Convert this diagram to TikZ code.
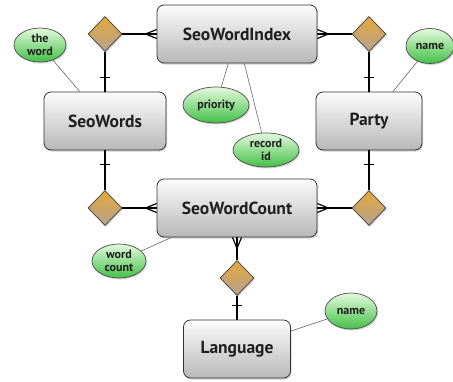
\documentclass[tikz,border=0pt]{standalone}
\usepackage{fontspec}
\setmainfont{PT Sans}
\usetikzlibrary{shapes.geometric,shadows,decorations.markings}
\definecolor{dtop}{RGB}{228,168,60}
\definecolor{dbot}{RGB}{180,162,142}
\definecolor{gtop}{RGB}{228,250,222}
\definecolor{gbot}{RGB}{66,192,70}
\definecolor{etop}{RGB}{252,252,252}
\definecolor{ebot}{RGB}{184,184,184}
\begin{document}
\begin{tikzpicture}[x=1pt,y=-1pt,
 shad/.style={drop shadow={opacity=0.35, shadow xshift=1pt, shadow yshift=-1.5pt}},
 entity/.style={draw=black!80, line width=0.8pt, rounded corners=7pt, top color=etop, bottom color=ebot,
   minimum height=58pt, inner sep=0pt, font=\bfseries\fontsize{17.5}{19}\selectfont, text=black!88, shad},
 rel/.style={diamond, draw=black!75, line width=0.7pt, top color=dtop, bottom color=dbot,
   minimum width=34pt, minimum height=35pt, inner sep=0pt, shad},
 attr/.style={ellipse, draw=black!70, line width=0.7pt, top color=gtop, bottom color=gbot, inner sep=0pt,
   font=\bfseries\fontsize{12}{12.5}\selectfont, text=black!88, align=center, shad},
 alink/.style={draw=black!60, line width=0.6pt},
 link/.style={draw=black, line width=1.4pt},
 many/.style={link, postaction={decorate}, decoration={markings,
   mark=at position -11pt with {\draw[line width=1.2pt] (0pt,0pt)--(11pt,4.5pt) (0pt,0pt)--(11pt,-4.5pt);}}},
 one/.style={link, postaction={decorate}, decoration={markings,
   mark=at position -14pt with {\draw[line width=1.2pt] (0pt,-5pt)--(0pt,5pt);}}},
]
\useasboundingbox (0,0) rectangle (453,381);

% entities
\node[entity, minimum width=160pt] (swi) at (237,34) {SeoWordIndex};
\node[entity, minimum width=122pt] (sw) at (105,121) {SeoWords};
\node[entity, minimum width=106pt] (party) at (369,121) {Party};
\node[entity, minimum width=160pt] (swc) at (237,208) {SeoWordCount};
\node[entity, minimum width=107pt] (lang) at (237,349) {Language};

% relationships
\node[rel] (r1) at (105,34) {};
\node[rel] (r2) at (369,34) {};
\node[rel] (r3) at (105,208) {};
\node[rel] (r4) at (369,208) {};
\node[rel] (r5) at (237,278) {};

% attributes
\node[attr, minimum width=52pt, minimum height=34pt] (tw) at (40,45) {the\\word};
\node[attr, minimum width=66pt, minimum height=36pt] (pr) at (216,105) {priority};
\node[attr, minimum width=66pt, minimum height=34pt] (rid) at (266,150) {record\\id};
\node[attr, minimum width=48pt, minimum height=35pt] (pn) at (430,46) {name};
\node[attr, minimum width=54pt, minimum height=34pt] (wc) at (119,261) {word\\count};
\node[attr, minimum width=52pt, minimum height=36pt] (ln) at (351,311) {name};

% attribute links
\draw[alink] (tw) -- (sw);
\draw[alink] (pr) -- (swi);
\draw[alink] (rid) -- (swi);
\draw[alink] (pn) -- (party);
\draw[alink] (wc) -- (swc);
\draw[alink] (ln) -- (lang);

% relationship links
\draw[many] (r1) -- (swi);
\draw[one] (r1) -- (sw);
\draw[many] (r2) -- (swi);
\draw[one] (r2) -- (party);
\draw[one] (r3) -- (sw);
\draw[many] (r3) -- (swc);
\draw[one] (r4) -- (party);
\draw[many] (r4) -- (swc);
\draw[many] (r5) -- (swc);
\draw[one] (r5) -- (lang);
\end{tikzpicture}
\end{document}
